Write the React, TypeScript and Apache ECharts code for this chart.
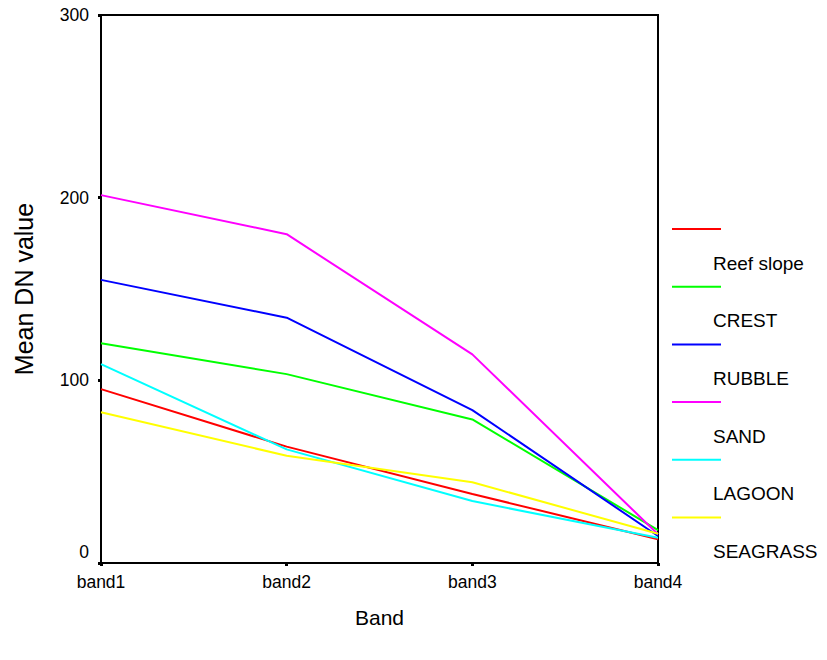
import React, { useEffect, useRef } from "react";
import * as echarts from "echarts";

const categories = ["band1", "band2", "band3", "band4"];
const seriesNames = ["Reef slope", "CREST", "RUBBLE", "SAND", "LAGOON", "SEAGRASS"];
const seriesColors = ["#ff0000", "#00ff00", "#0000ff", "#ff00ff", "#00ffff", "#ffff00"];
const reefSlope = [95.2, 63.7, 37.8, 13];
const crest = [120.3, 103.4, 78.6, 18];
const rubble = [155, 134.3, 83.7, 14.8];
const sand = [201.4, 180, 114.2, 15.7];
const lagoon = [108.9, 62.2, 33.9, 13.8];
const seagrass = [82.5, 58.7, 44.2, 16];
const seriesValues = [reefSlope, crest, rubble, sand, lagoon, seagrass];
const yTicks = [0, 100, 200, 300];

const FONT = "Liberation Sans, Arial, sans-serif";

export default function App() {
  const ref = useRef<HTMLDivElement>(null);
  useEffect(() => {
    if (!ref.current) return;
    const chart = echarts.init(ref.current, undefined, { renderer: "svg" });
    const legendGraphics: any[] = [];
    seriesNames.forEach((name, i) => {
      const y = 229 + i * 57.7;
      legendGraphics.push({
        type: "line",
        shape: { x1: 672, y1: y, x2: 721, y2: y },
        style: { stroke: seriesColors[i], lineWidth: 2 },
      });
      legendGraphics.push({
        type: "text",
        x: 713,
        y: y + 34,
        style: {
          text: name,
          fill: "#000",
          font: `19px ${FONT}`,
          textVerticalAlign: "middle",
          textAlign: "left",
        },
      });
    });
    chart.setOption({
      animation: false,
      backgroundColor: "#fff",
      grid: {
        left: 101,
        top: 15,
        right: 169,
        bottom: 97,
        show: true,
        borderColor: "#000",
        borderWidth: 2,
      },
      xAxis: {
        type: "category",
        data: categories,
        boundaryGap: false,
        name: "Band",
        nameLocation: "middle",
        nameGap: 44,
        nameTextStyle: { fontFamily: FONT, fontSize: 21, color: "#000" },
        axisLine: { lineStyle: { color: "#000", width: 2 } },
        axisTick: { show: true, length: 3, lineStyle: { color: "#000", width: 3 } },
        axisLabel: { fontFamily: FONT, fontSize: 17.5, color: "#000", margin: 10 },
        splitLine: { show: false },
      },
      yAxis: {
        type: "value",
        min: 0,
        max: 300,
        interval: 100,
        name: "Mean DN value",
        nameLocation: "middle",
        nameGap: 65,
        nameTextStyle: { fontFamily: FONT, fontSize: 25, color: "#000" },
        axisLine: { show: true, lineStyle: { color: "#000", width: 2 } },
        axisTick: { show: true, length: 3, lineStyle: { color: "#000", width: 3 } },
        axisLabel: {
          fontFamily: FONT,
          fontSize: 17.5,
          color: "#000",
          margin: 12,
          formatter: (v: number) => (v === yTicks[0] ? "{z|" + v + "}" : String(v)),
          rich: { z: { fontFamily: FONT, fontSize: 17.5, color: "#000", padding: [0, 0, 22, 0] } },
        },
        splitLine: { show: false },
      },
      series: seriesNames.map((name, i) => ({
        name,
        type: "line",
        data: seriesValues[i],
        symbol: "none",
        lineStyle: { color: seriesColors[i], width: 2 },
        itemStyle: { color: seriesColors[i] },
      })),
      graphic: legendGraphics,
    });
    return () => chart.dispose();
  }, []);
  return <div ref={ref} style={{ width: 827, height: 660, margin: -8 }} />;
}
